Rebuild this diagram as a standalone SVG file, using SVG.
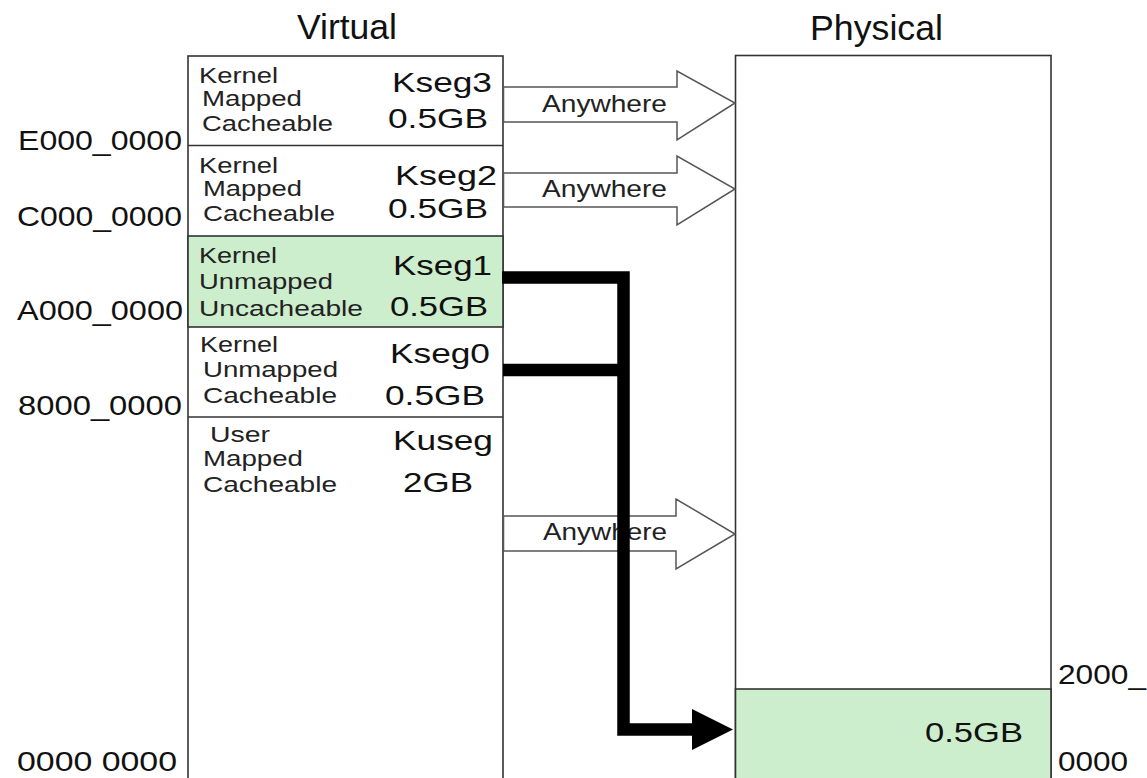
<svg xmlns="http://www.w3.org/2000/svg" width="1147" height="778" viewBox="0 0 1147 778">
<style>
text{font-family:"Liberation Sans",Arial,sans-serif;fill:#111;}
.title{font-size:35px;}
.addr{font-size:28px;}
.seg{font-size:28px;}
.lbl{font-size:22px;fill:#222;}
.any{font-size:24px;fill:#222;}
.box{fill:#fff;stroke:#333;stroke-width:1.6;}
.green{fill:#cdeecd;stroke:#333;stroke-width:1.6;}
.div{stroke:#333;stroke-width:1.6;}
.hollow{fill:#fff;stroke:#555;stroke-width:1.5;stroke-linejoin:miter;}
.thick{fill:none;stroke:#000;stroke-width:12.5;stroke-linejoin:miter;}
</style>
<rect width="1147" height="778" fill="#fff"/>
<g id="titles">
<text class="title" x="297" y="39" textLength="100" lengthAdjust="spacingAndGlyphs">Virtual</text>
<text class="title" x="810" y="40" textLength="133" lengthAdjust="spacingAndGlyphs">Physical</text>
</g>
<g id="virtual">
<rect class="box" x="188" y="56" width="315" height="740"/>
<rect class="green" x="188" y="236" width="315" height="91"/>
<line class="div" x1="188" y1="145.5" x2="503" y2="145.5"/>
<line class="div" x1="188" y1="417" x2="503" y2="417"/>
</g>
<g id="kseg3">
<text class="lbl" x="199" y="83" textLength="79" lengthAdjust="spacingAndGlyphs">Kernel</text>
<text class="lbl" x="202" y="106" textLength="100" lengthAdjust="spacingAndGlyphs">Mapped</text>
<text class="lbl" x="202" y="131" textLength="131" lengthAdjust="spacingAndGlyphs">Cacheable</text>
<text class="seg" x="392" y="92" textLength="100" lengthAdjust="spacingAndGlyphs">Kseg3</text>
<text class="seg" x="388" y="128" textLength="100" lengthAdjust="spacingAndGlyphs">0.5GB</text>
</g>
<g id="kseg2">
<text class="lbl" x="199" y="173" textLength="79" lengthAdjust="spacingAndGlyphs">Kernel</text>
<text class="lbl" x="203" y="196" textLength="99" lengthAdjust="spacingAndGlyphs">Mapped</text>
<text class="lbl" x="203" y="221" textLength="132" lengthAdjust="spacingAndGlyphs">Cacheable</text>
<text class="seg" x="395" y="185" textLength="102" lengthAdjust="spacingAndGlyphs">Kseg2</text>
<text class="seg" x="388" y="218" textLength="100" lengthAdjust="spacingAndGlyphs">0.5GB</text>
</g>
<g id="kseg1">
<text class="lbl" x="199" y="263" textLength="78" lengthAdjust="spacingAndGlyphs">Kernel</text>
<text class="lbl" x="199" y="289" textLength="134" lengthAdjust="spacingAndGlyphs">Unmapped</text>
<text class="lbl" x="199" y="316" textLength="164" lengthAdjust="spacingAndGlyphs">Uncacheable</text>
<text class="seg" x="393" y="275" textLength="99" lengthAdjust="spacingAndGlyphs">Kseg1</text>
<text class="seg" x="390" y="316" textLength="98" lengthAdjust="spacingAndGlyphs">0.5GB</text>
</g>
<g id="kseg0">
<text class="lbl" x="200" y="352" textLength="78" lengthAdjust="spacingAndGlyphs">Kernel</text>
<text class="lbl" x="203" y="377" textLength="135" lengthAdjust="spacingAndGlyphs">Unmapped</text>
<text class="lbl" x="203" y="403" textLength="134" lengthAdjust="spacingAndGlyphs">Cacheable</text>
<text class="seg" x="390" y="363" textLength="100" lengthAdjust="spacingAndGlyphs">Kseg0</text>
<text class="seg" x="385" y="405" textLength="100" lengthAdjust="spacingAndGlyphs">0.5GB</text>
</g>
<g id="kuseg">
<text class="lbl" x="210" y="442" textLength="60" lengthAdjust="spacingAndGlyphs">User</text>
<text class="lbl" x="203" y="466" textLength="100" lengthAdjust="spacingAndGlyphs">Mapped</text>
<text class="lbl" x="203" y="492" textLength="134" lengthAdjust="spacingAndGlyphs">Cacheable</text>
<text class="seg" x="393" y="450" textLength="100" lengthAdjust="spacingAndGlyphs">Kuseg</text>
<text class="seg" x="403" y="492" textLength="70" lengthAdjust="spacingAndGlyphs">2GB</text>
</g>
<g id="addresses">
<text class="addr" x="18" y="150" textLength="164" lengthAdjust="spacingAndGlyphs">E000_0000</text>
<text class="addr" x="17" y="226" textLength="165" lengthAdjust="spacingAndGlyphs">C000_0000</text>
<text class="addr" x="17" y="320" textLength="166" lengthAdjust="spacingAndGlyphs">A000_0000</text>
<text class="addr" x="18" y="415" textLength="164" lengthAdjust="spacingAndGlyphs">8000_0000</text>
<text class="addr" x="17" y="771" textLength="160" lengthAdjust="spacingAndGlyphs">0000 0000</text>
</g>
<g id="physical">
<rect class="box" x="735.5" y="55.5" width="315.5" height="740"/>
<rect class="green" x="735.5" y="689" width="315.5" height="100"/>
<text class="seg" x="925" y="742" textLength="98" lengthAdjust="spacingAndGlyphs">0.5GB</text>
<text class="addr" x="1058" y="684" textLength="88" lengthAdjust="spacingAndGlyphs">2000_</text>
<text class="addr" x="1058" y="771" textLength="70" lengthAdjust="spacingAndGlyphs">0000</text>
</g>
<g id="connectors">
<polygon class="hollow" points="503.5,87 677,87 677,71 735,103 677,140 677,122 503.5,122"/>
<text class="any" x="542" y="112" textLength="125" lengthAdjust="spacingAndGlyphs">Anywhere</text>
<polygon class="hollow" points="503.5,173 677,173 677,156 735,189 677,225 677,207 503.5,207"/>
<text class="any" x="542" y="197" textLength="125" lengthAdjust="spacingAndGlyphs">Anywhere</text>
<polygon class="hollow" points="503.5,516 676,516 676,499 735,534 676,569 676,551 503.5,551"/>
<text class="any" x="543" y="540" textLength="124" lengthAdjust="spacingAndGlyphs">Anywhere</text>
<path class="thick" d="M502,277.5 H623.5 V729.5 H696"/>
<path class="thick" d="M503,370 H623.5"/>
<polygon points="692,709 733,729.5 692,750" fill="#000"/>
</g>
</svg>
